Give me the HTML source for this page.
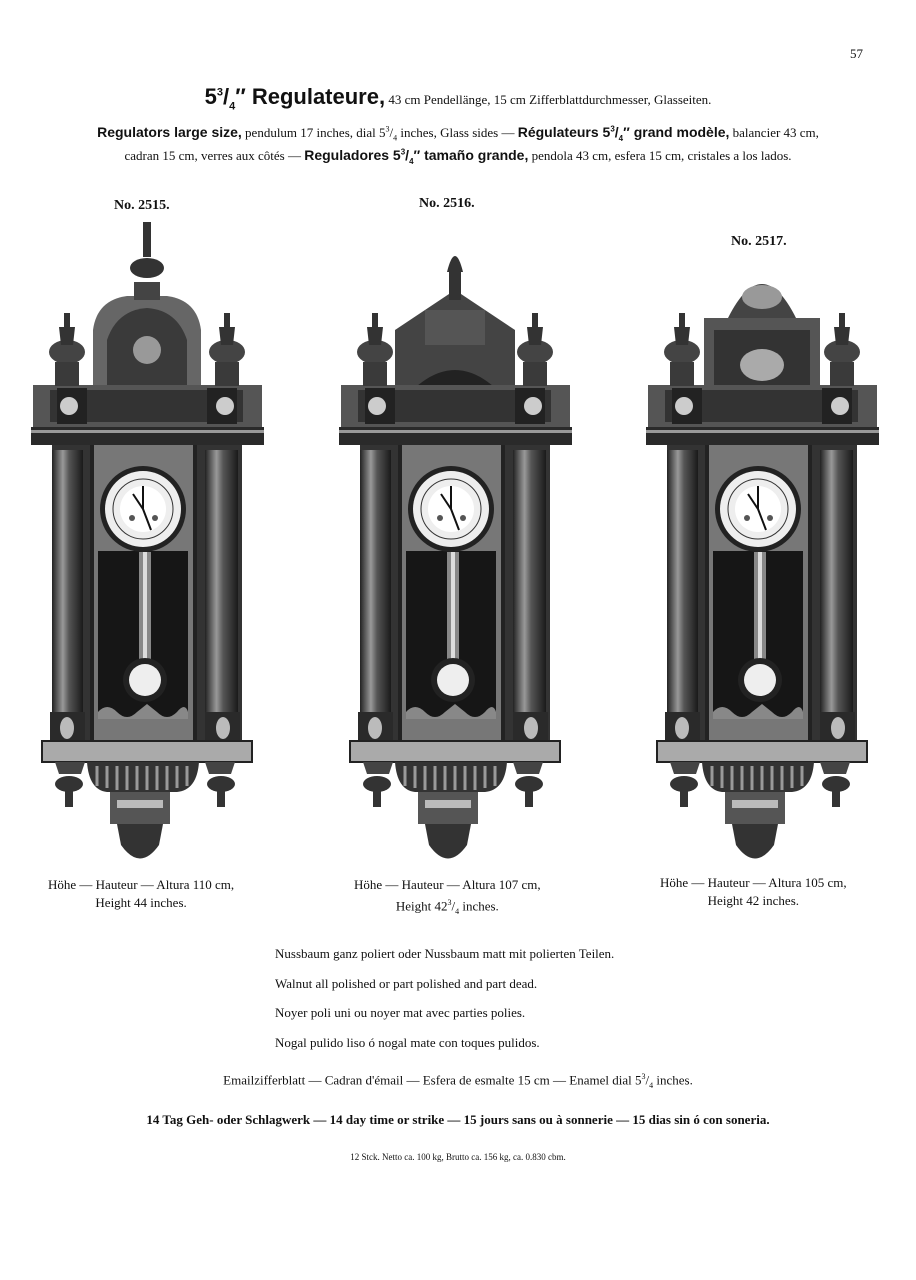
<!DOCTYPE html>
<html><head><meta charset="utf-8"><style>
body{margin:0;background:#fff}
#p{position:relative;width:916px;height:1280px;overflow:hidden;font-family:"Liberation Serif",serif;color:#111}
.t{position:absolute;white-space:nowrap}
.s{font-family:"Liberation Sans",sans-serif;font-weight:bold}
.c{left:0;width:916px;text-align:center}
</style></head><body><div id="p">
<svg width="916" height="1280" style="position:absolute;left:0;top:0">
<defs>
<linearGradient id="col" x1="0" x2="1"><stop offset="0" stop-color="#222"/><stop offset=".35" stop-color="#999"/><stop offset=".55" stop-color="#555"/><stop offset="1" stop-color="#1a1a1a"/></linearGradient>
<g id="body">
<!-- cornice -->
<rect x="-114" y="385" width="229" height="42" fill="#555"/>
<rect x="-97" y="390" width="193" height="32" fill="#333"/>
<rect x="-90" y="388" width="30" height="36" fill="#222"/>
<rect x="60" y="388" width="30" height="36" fill="#222"/>
<circle cx="-78" cy="406" r="9" fill="#ccc"/><circle cx="78" cy="406" r="9" fill="#ccc"/>
<rect x="-116" y="427" width="233" height="18" fill="#2a2a2a"/>
<rect x="-116" y="430" width="233" height="3" fill="#999"/>
<!-- body -->
<rect x="-95" y="445" width="190" height="300" fill="#333"/>
<rect x="-95" y="450" width="31" height="262" fill="url(#col)"/>
<rect x="58" y="450" width="33" height="262" fill="url(#col)"/>
<rect x="-97" y="712" width="35" height="35" fill="#2a2a2a"/>
<rect x="58" y="712" width="35" height="35" fill="#2a2a2a"/>
<ellipse cx="-80" cy="728" rx="7" ry="11" fill="#bbb"/><ellipse cx="76" cy="728" rx="7" ry="11" fill="#bbb"/>
<rect x="-57" y="445" width="107" height="300" fill="#777"/>
<rect x="-57" y="445" width="4" height="300" fill="#222"/><rect x="46" y="445" width="4" height="300" fill="#222"/>
<rect x="-49" y="551" width="90" height="168" fill="#161616"/>
<path d="M-49 719 L-49 712 Q-40 702 -30 712 Q-20 722 -10 712 L0 704 L10 712 Q20 722 30 712 Q38 702 41 712 L41 719Z" fill="#888"/>
<!-- dial -->
<circle cx="-4" cy="509" r="43" fill="#222"/>
<circle cx="-4" cy="509" r="38" fill="#eee"/>
<circle cx="-4" cy="509" r="30" fill="none" stroke="#333" stroke-width="1"/>
<circle cx="-4" cy="509" r="23" fill="#fff"/>
<path d="M-4 509 L-4 486 M-4 509 L-14 494 M-4 509 L4 530" stroke="#111" stroke-width="2"/>
<circle cx="-15" cy="518" r="3" fill="#555"/><circle cx="8" cy="518" r="3" fill="#555"/>
<!-- pendulum -->
<rect x="-8" y="552" width="12" height="110" fill="#888"/>
<rect x="-4" y="552" width="4" height="110" fill="#ddd"/>
<circle cx="-2" cy="680" r="22" fill="#222"/>
<circle cx="-2" cy="680" r="16" fill="#eee"/>
<!-- ledge / base -->
<rect x="-105" y="741" width="210" height="21" fill="#aaa" stroke="#222" stroke-width="2"/>
<path d="M-60 762 L52 762 Q50 790 30 792 L-40 792 Q-58 790 -60 762Z" fill="#333"/>
<path d="M-50 766 v20 M-40 766 v22 M-30 766 v24 M-20 766 v24 M-10 766 v24 M0 766 v24 M10 766 v24 M20 766 v24 M30 766 v22 M40 766 v20" stroke="#999" stroke-width="3"/>
<rect x="-37" y="792" width="60" height="32" fill="#555"/>
<rect x="-30" y="800" width="46" height="8" fill="#bbb"/>
<path d="M-30 824 L16 824 L12 845 Q-7 872 -26 845Z" fill="#333"/>
<path d="M-92 762 h30 l-4 12 h-22z M58 762 h30 l-4 12 h-22z" fill="#444"/>
<ellipse cx="-78" cy="784" rx="14" ry="8" fill="#333"/><ellipse cx="74" cy="784" rx="14" ry="8" fill="#333"/>
<rect x="-82" y="790" width="8" height="17" fill="#333"/><rect x="70" y="790" width="8" height="17" fill="#333"/>
<!-- side finials -->
<g id="sf"><rect x="-83" y="313" width="6" height="14" fill="#333"/><ellipse cx="-80" cy="352" rx="18" ry="12" fill="#444"/><path d="M-88 327 L-72 327 L-74 345 L-86 345Z" fill="#333"/><rect x="-92" y="362" width="24" height="24" fill="#3a3a3a"/></g>
<use href="#sf" transform="translate(160,0)"/>
</g>
</defs>
<!-- clock 1 crown -->
<g transform="translate(147,0)">
<path d="M-54 385 L-54 330 Q-50 300 -20 296 L20 296 Q50 300 54 330 L54 385Z" fill="#666"/>
<path d="M-40 385 L-40 340 Q-30 310 0 308 Q30 310 40 340 L40 385Z" fill="#3a3a3a"/>
<circle cx="0" cy="350" r="14" fill="#999"/>
<rect x="-13" y="282" width="26" height="18" fill="#444"/>
<ellipse cx="0" cy="268" rx="17" ry="10" fill="#333"/>
<rect x="-4" y="222" width="8" height="35" fill="#333"/>
<use href="#body"/>
</g>
<!-- clock 2 crown -->
<g transform="translate(455,0)">
<path d="M-60 385 L-60 330 L0 290 L60 330 L60 385Z" fill="#444"/>
<path d="M-52 420 L-52 400 Q0 340 52 400 L52 420Z" fill="#222"/>
<path d="M-40 415 Q0 360 40 415" fill="none" stroke="#aaa" stroke-width="3"/>
<rect x="-30" y="310" width="60" height="35" fill="#555"/>
<rect x="-6" y="270" width="12" height="30" fill="#333"/>
<path d="M-8 272 Q0 240 8 272Z" fill="#333"/>
<use href="#body"/>
</g>
<!-- clock 3 crown -->
<g transform="translate(762,0)">
<rect x="-58" y="318" width="116" height="67" fill="#555"/>
<rect x="-48" y="330" width="96" height="55" fill="#333"/>
<ellipse cx="0" cy="365" rx="22" ry="16" fill="#aaa"/>
<path d="M-34 318 Q0 250 34 318Z" fill="#444"/>
<ellipse cx="0" cy="297" rx="20" ry="12" fill="#999"/>
<use href="#body"/>
</g>
</svg>

<div class="t" style="left:850px;top:46px;font-size:13px">57</div>
<div class="t c" style="top:84px;font-size:13px"><span class="s" style="font-size:22px">5<sup style="font-size:11px">3</sup>/<sub style="font-size:11px">4</sub>″ Regulateure,</span> 43 cm Pendellänge, 15 cm Zifferblattdurchmesser, Glasseiten.</div>
<div class="t c" style="top:124px;font-size:13px"><span class="s" style="font-size:14px">Regulators large size,</span> pendulum 17 inches, dial 5<sup style="font-size:8px">3</sup>/<sub style="font-size:8px">4</sub> inches, Glass sides — <span class="s" style="font-size:14px">Régulateurs 5<sup style="font-size:8px">3</sup>/<sub style="font-size:8px">4</sub>″ grand modèle,</span> balancier 43 cm,</div>
<div class="t c" style="top:147px;font-size:13px">cadran 15 cm, verres aux côtés — <span class="s" style="font-size:14px">Reguladores 5<sup style="font-size:8px">3</sup>/<sub style="font-size:8px">4</sub>″ tamaño grande,</span> pendola 43 cm, esfera 15 cm, cristales a los lados.</div>
<div class="t" style="left:114px;top:198px;font-size:14px;font-weight:bold">No. 2515.</div>
<div class="t" style="left:419px;top:196px;font-size:14px;font-weight:bold">No. 2516.</div>
<div class="t" style="left:731px;top:234px;font-size:14px;font-weight:bold">No. 2517.</div>
<div class="t" style="left:48px;top:876px;font-size:13px;line-height:18px;text-align:center">Höhe — Hauteur — Altura 110 cm,<br>Height 44 inches.</div>
<div class="t" style="left:354px;top:876px;font-size:13px;line-height:18px;text-align:center">Höhe — Hauteur — Altura 107 cm,<br>Height 42<sup style="font-size:8px">3</sup>/<sub style="font-size:8px">4</sub> inches.</div>
<div class="t" style="left:660px;top:874px;font-size:13px;line-height:18px;text-align:center">Höhe — Hauteur — Altura 105 cm,<br>Height 42 inches.</div>
<div class="t" style="left:275px;top:946px;font-size:13px">Nussbaum ganz poliert oder Nussbaum matt mit polierten Teilen.</div>
<div class="t" style="left:275px;top:976px;font-size:13px">Walnut all polished or part polished and part dead.</div>
<div class="t" style="left:275px;top:1005px;font-size:13px">Noyer poli uni ou noyer mat avec parties polies.</div>
<div class="t" style="left:275px;top:1035px;font-size:13px">Nogal pulido liso ó nogal mate con toques pulidos.</div>
<div class="t c" style="top:1072px;font-size:13px">Emailzifferblatt — Cadran d'émail — Esfera de esmalte 15 cm — Enamel dial 5<sup style="font-size:8px">3</sup>/<sub style="font-size:8px">4</sub> inches.</div>
<div class="t c" style="top:1112px;font-size:13px;font-weight:bold">14 Tag Geh- oder Schlagwerk — 14 day time or strike — 15 jours sans ou à sonnerie — 15 dias sin ó con soneria.</div>
<div class="t c" style="top:1152px;font-size:9px">12 Stck. Netto ca. 100 kg, Brutto ca. 156 kg, ca. 0.830 cbm.</div>
</div></body></html>
